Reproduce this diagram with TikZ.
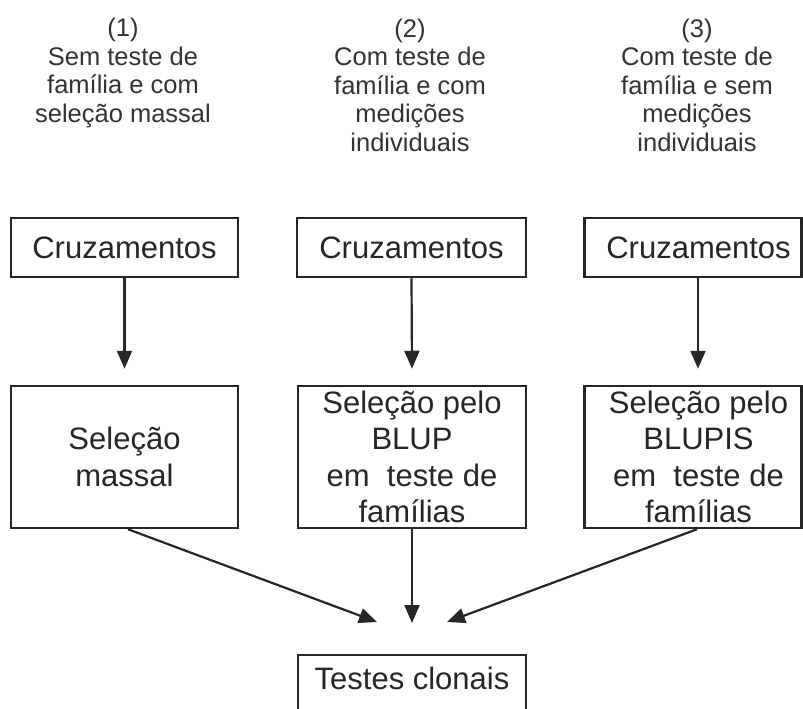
\documentclass[tikz,border=0pt]{standalone}
\usepackage{fontspec}
\setmainfont{Liberation Sans}
\usetikzlibrary{arrows.meta}
\begin{document}
\begin{tikzpicture}[x=1pt,y=-1pt,
  ink/.style={draw=black!85, line width=2.5pt},
  box/.style={ink, rectangle, inner sep=0pt, align=center, text=black!85,
    font=\fontsize{31}{36.5}\selectfont},
  head/.style={inner sep=0pt, align=center, text=black!80,
    font=\fontsize{25.5}{28.5}\selectfont},
  arr/.style={draw=black!85, line width=2.2pt, -{Triangle[length=18pt,width=15pt]}}]
\clip (0,0) rectangle (803,709);
% headers
\node[head] (h1) at (123,73) {(1)\\Sem teste de\\família e com\\seleção massal};
\node[head] (h2) at (410,85) {(2)\\Com teste de\\família e com\\medições\\individuais};
\node[head] (h3) at (697,85) {(3)\\Com teste de\\família e sem\\medições\\individuais};
% row 1
\node[box, minimum width=227pt, minimum height=59pt] (c1) at (124.5,247.5) {Cruzamentos};
\node[box, minimum width=229pt, minimum height=59pt] (c2) at (411.5,247.5) {Cruzamentos};
\node[box, minimum width=217pt, minimum height=59pt] (c3) at (693,247.5) {\hspace*{11pt}Cruzamentos};
% row 2
\node[box, minimum width=227pt, minimum height=142pt] (s1) at (124.5,457) {Seleção\\massal};
\node[box, minimum width=228pt, minimum height=142pt] (s2) at (412,457) {Seleção pelo\\BLUP\\em\ \ teste de\\famílias};
\node[box, minimum width=217pt, minimum height=142pt] (s3) at (693,457) {\hspace*{11pt}Seleção pelo\\\hspace*{11pt}BLUPIS\\\hspace*{11pt}em\ \ teste de\\\hspace*{11pt}famílias};
% bottom
\node[box, minimum width=228pt, minimum height=57pt] (t) at (412,683.5) {\raisebox{10pt}{Testes clonais}};
\coordinate (l) at (377,622);
\coordinate (m) at (412,623);
\coordinate (r) at (447,622);
% arrows
\draw[arr] (c1.south) -- ([yshift=16pt]s1.north);
\draw[arr] (c2.south) -- ([yshift=16pt]s2.north);
\draw[arr] ([xshift=5pt]c3.south) -- ([xshift=5pt,yshift=16pt]s3.north);
\draw[arr] ([xshift=3.5pt]s1.south) -- (l);
\draw[arr] (s2.south) -- (m);
\draw[arr] ([xshift=4pt]s3.south) -- (r);
\end{tikzpicture}
\end{document}
